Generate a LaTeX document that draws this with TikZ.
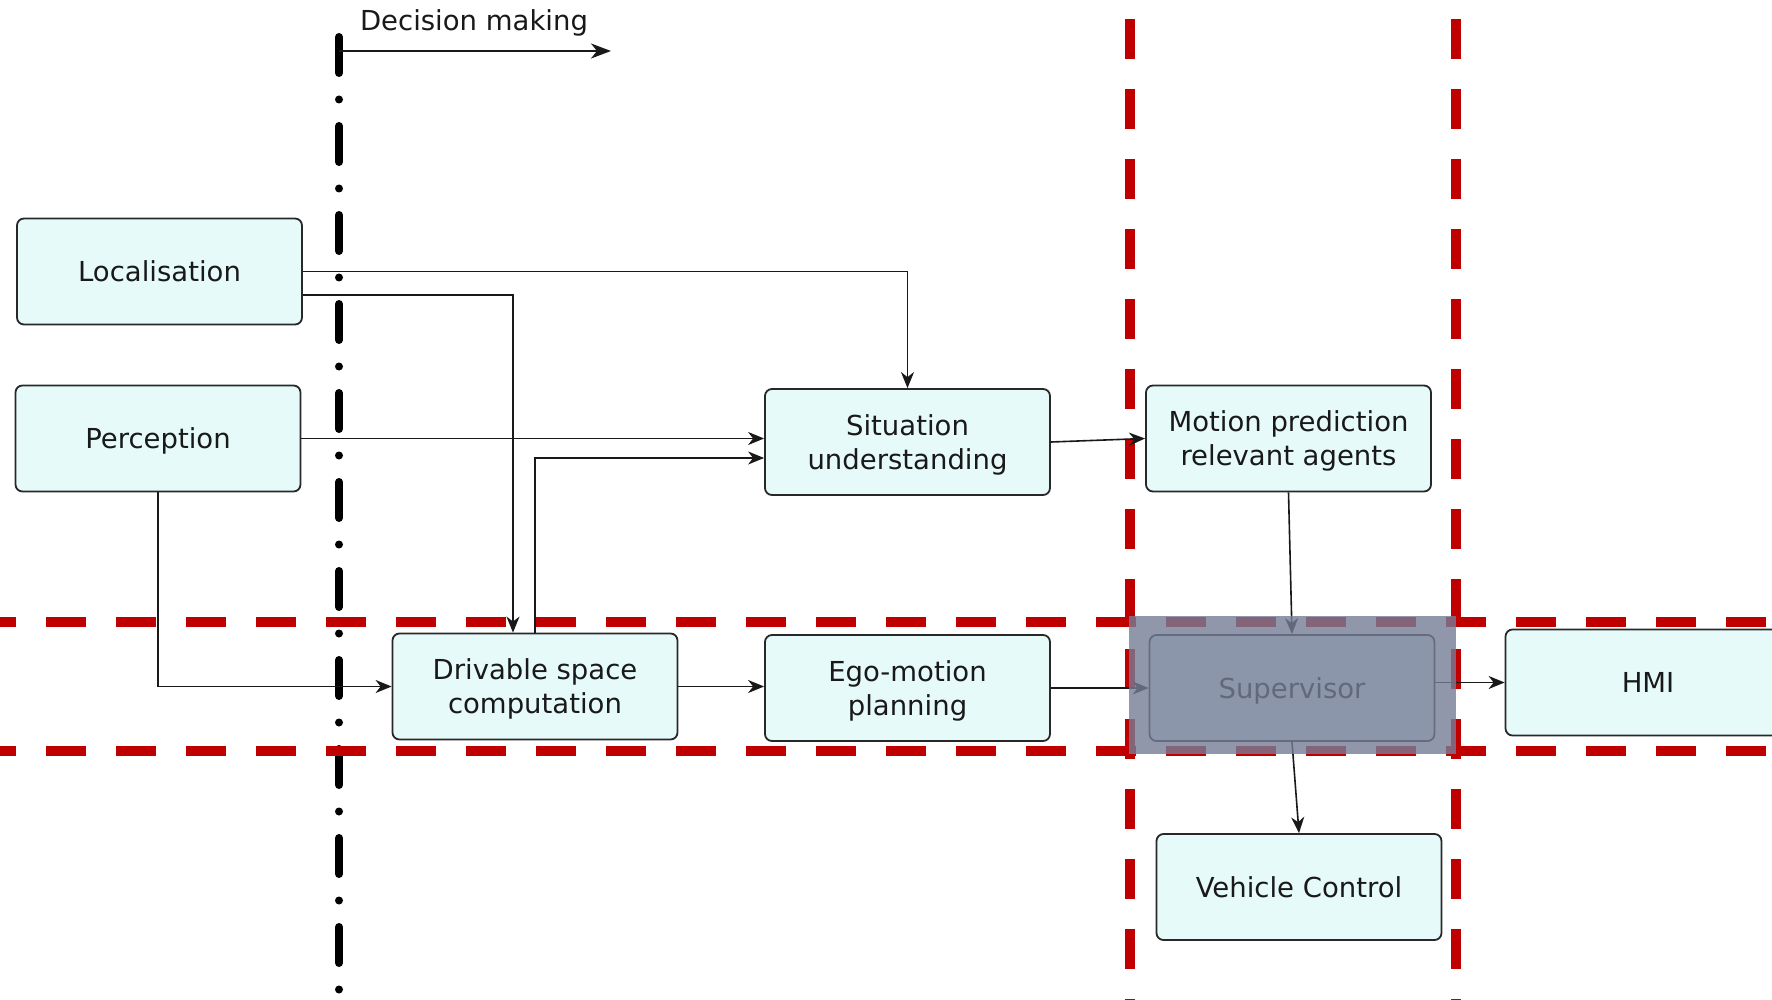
\documentclass[tikz,border=0pt]{standalone}
\usepackage{fontspec}
\setmainfont{DejaVu Sans}
\usetikzlibrary{arrows.meta}
\definecolor{boxfill}{RGB}{230,250,250}
\definecolor{boxline}{RGB}{40,40,40}
\definecolor{dred}{RGB}{192,0,0}
\definecolor{veil}{RGB}{118,125,150}
\definecolor{ink}{RGB}{25,25,25}
\begin{document}
\begin{tikzpicture}[x=1pt,y=-1pt,
  blk/.style={draw=boxline, line width=1.8pt, fill=boxfill, rounded corners=7pt,
    minimum width=285pt, minimum height=106pt, align=center, inner sep=0pt,
    text depth=0pt, font=\fontsize{27.5}{34}\selectfont, text=ink},
  conn/.style={draw=ink, line width=1.6pt, -{Stealth[length=16pt,width=13pt,inset=5pt]}},
  redline/.style={draw=dred, line width=10pt, dash pattern=on 40pt off 30pt},
  dashdot/.style={draw=black, line width=8pt, line cap=round,
    dash pattern=on 36pt off 26.5pt on 0pt off 26.5pt},
  lbl/.style={font=\fontsize{27.5}{34}\selectfont, text=ink, inner sep=0pt}
]
\useasboundingbox (0,0) rectangle (1772,1000);
\clip (0,0) rectangle (1772,1000);
\fill[white] (0,0) rectangle (1772,1000);

% decision making boundary
\coordinate (dd0) at (339,37);
\coordinate (dd1) at (339,995);
\draw[dashdot] (dd0) -- (dd1);
\coordinate (dm0) at (339,51);
\coordinate (dm1) at (611,51);
\draw[draw=ink, line width=2pt, -{Stealth[length=20pt,width=15pt,inset=6pt]}] (dm0) -- (dm1);
\node[lbl, anchor=base] (dmlabel) at (474,31) {Decision making};

% red dashed guide lines
\coordinate (h1a) at (-24,622);  \coordinate (h1b) at (1800,622);
\coordinate (h2a) at (-24,751);  \coordinate (h2b) at (1800,751);
\coordinate (v1a) at (1130,19);  \coordinate (v1b) at (1130,1010);
\coordinate (v2a) at (1456,19);  \coordinate (v2b) at (1456,1010);
\draw[redline] (h1a) -- (h1b);
\draw[redline] (h2a) -- (h2b);
\draw[redline] (v1a) -- (v1b);
\draw[redline] (v2a) -- (v2b);

% blocks
\node[blk] (loc) at (159.5,271.5) {Localisation};
\node[blk] (per) at (158,438.5) {Perception};
\node[blk] (sit) at (907.5,442) {Situation\\understanding};
\node[blk] (mp)  at (1288.5,438.5) {Motion prediction\\relevant agents};
\node[blk] (dsc) at (535,686.5) {Drivable space\\computation};
\node[blk] (ego) at (907.5,688) {Ego-motion\\planning};
\node[blk] (sup) at (1292,688) {Supervisor};
\node[blk] (hmi) at (1648,682.5) {HMI};
\node[blk] (vc)  at (1299,887) {Vehicle Control};

% connectors
\draw[conn] (loc.east) -| (sit.north);
\draw[conn] ([yshift=-23.5pt]loc.east) -| ([xshift=-22pt]dsc.north);
\draw[conn] (per.east) -- (per.east -| sit.west);
\draw[conn] (dsc.north) |- ([yshift=-16pt]sit.west);
\draw[conn] (per.south) |- (dsc.west);
\draw[conn] (dsc.east) -- (dsc.east -| ego.west);
\draw[conn] (sit.east) -- (mp.west);
\draw[conn] (mp.south) -- (sup.north);
\draw[conn] (ego.east) -- (sup.west);
\draw[conn] (hmi.west -| sup.east) -- (hmi.west);
\draw[conn] (sup.south) -- (vc.north);

% translucent veil over the supervisor
\fill[veil, fill opacity=0.8] (1129,616) rectangle (1456,754);
\end{tikzpicture}
\end{document}
